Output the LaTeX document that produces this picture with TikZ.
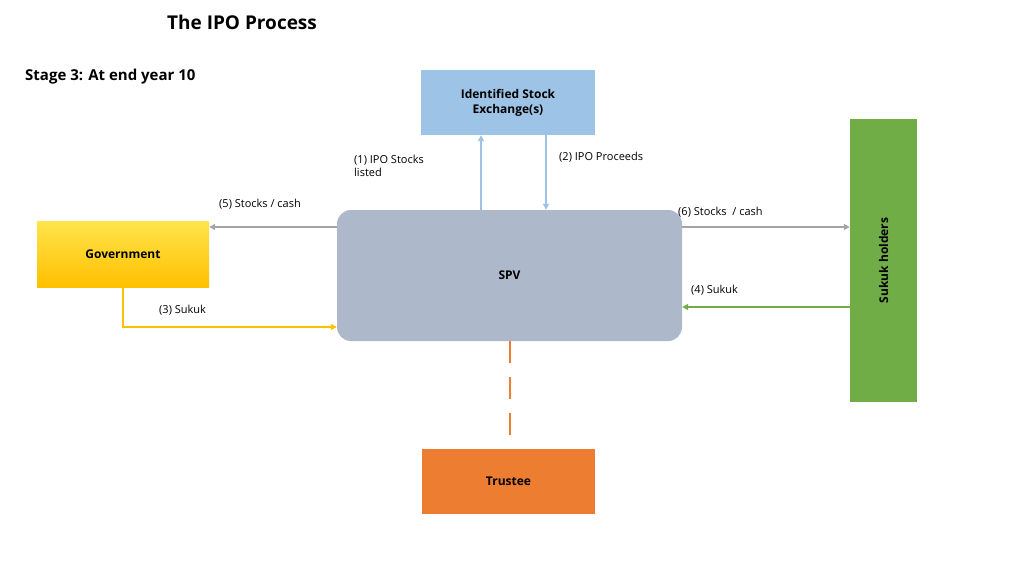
\documentclass[tikz,border=0pt]{standalone}
\usepackage{fontspec}
\setmainfont{Open Sans}
\usetikzlibrary{arrows.meta}
\definecolor{exch}{HTML}{9DC3E6}
\definecolor{spvc}{HTML}{ADB9CA}
\definecolor{gold}{HTML}{FFC000}
\definecolor{grn}{HTML}{70AD47}
\definecolor{org}{HTML}{ED7D31}
\definecolor{arrg}{HTML}{A5A5A5}
\tikzset{
  box/.style={draw=none, minimum width=#1},
  lbl/.style={font=\fontsize{11}{13}\selectfont, anchor=west, align=left, inner sep=0},
  bl/.style={font=\bfseries\fontsize{12}{15}\selectfont, align=center},
  arr/.style={line width=1.6pt, -{Triangle[length=6pt,width=6pt]}}
}
\begin{document}
\begin{tikzpicture}[x=1pt,y=-1pt]
\useasboundingbox (0,0) rectangle (1024,575);
\node[font=\bfseries\fontsize{19}{22}\selectfont] (title) at (242,22) {The IPO Process};
\node[font=\bfseries\fontsize{15}{18}\selectfont, anchor=west, inner sep=0] (stage) at (25,77) {Stage 3: At end year 10};
\node[bl, fill=exch, minimum width=174pt, minimum height=65pt] (ex) at (508,102.5) {Identified Stock\\Exchange(s)};
\node[bl, fill=spvc, rounded corners=14pt, minimum width=345pt, minimum height=131pt] (spv) at (509.5,275.5) {SPV};
\node[bl, top color=gold!60!yellow!70, bottom color=gold, minimum width=172pt, minimum height=66pt] (gov) at (123,254) {Government};
\node[bl, fill=grn, minimum width=67pt, minimum height=283pt] (suk) at (883.5,260.5) {};
\node[bl, rotate=90] at (suk) {Sukuk holders};
\node[bl, fill=org, minimum width=173pt, minimum height=65pt] (tr) at (508.5,481.5) {Trustee};
\draw[arr, exch] (spv.north -| 481,0) -- (ex.south -| 481,0);
\draw[arr, exch] (ex.south -| 546,0) -- (spv.north -| 546,0);
\draw[arr, arrg] (spv.west |- 0,227) -- (gov.east |- 0,227);
\draw[arr, arrg] (spv.east |- 0,227) -- (suk.west |- 0,227);
\draw[arr, grn] (suk.west |- 0,307) -- (spv.east |- 0,307);
\draw[arr, gold] (gov.south) -- (123,327) -- (spv.west |- 0,327);
\draw[org, line width=2.5pt, dash pattern=on 22pt off 14pt] (spv.south -| 510,0) -- (tr.north -| 510,0);
\node[lbl] (l1) at (354,166) {(1) IPO Stocks\\listed};
\node[lbl] (l2) at (559,157) {(2) IPO Proceeds};
\node[lbl] (l5) at (219,204) {(5) Stocks / cash};
\node[lbl] (l6) at (678,212) {(6) Stocks~~/ cash};
\node[lbl] (l4) at (691,290) {(4) Sukuk};
\node[lbl] (l3) at (159,310) {(3) Sukuk};
\end{tikzpicture}
\end{document}
